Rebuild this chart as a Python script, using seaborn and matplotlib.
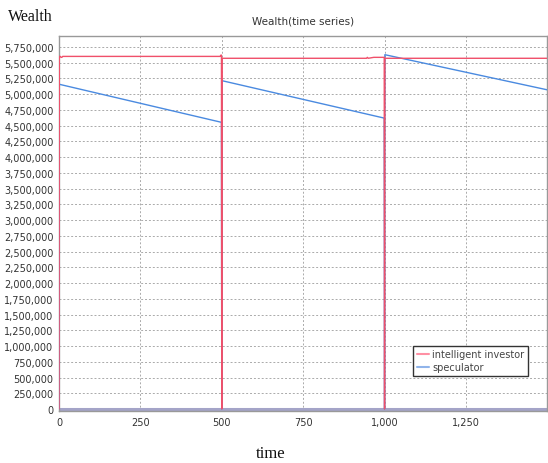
import matplotlib
matplotlib.use("Agg")
import matplotlib.pyplot as plt
import matplotlib.ticker as mticker
import pandas as pd
import seaborn as sns

# Wealth of each agent over time (millions); the series reset to 0 at t = 0, 500, 1000
investor_t = [0, 1, 4, 6, 9, 11, 495, 497, 499, 500, 501, 945, 947, 950, 967, 999, 1000, 1001, 1499]
investor_w = [0, 5.60, 5.60, 5.585, 5.585, 5.60, 5.60, 5.62, 5.62, 0, 5.57, 5.57, 5.585, 5.57, 5.585,
              5.585, 0, 5.57, 5.57]

speculator_t = [0, 1, 499, 500, 501, 999, 1000, 1001, 1499]
speculator_w = [0, 5.157, 4.553, 0, 5.214, 4.62, 0, 5.627, 5.07]

series_names = ["intelligent investor", "speculator"]
x_ticks = [0, 250, 500, 750, 1000, 1250]
y_ticks = [i * 250000 for i in range(24)]

red = "#f0506a"
blue = "#4a8ae0"

df_inv = pd.DataFrame({"time": investor_t, "wealth": [w * 1e6 for w in investor_w]})
df_spec = pd.DataFrame({"time": speculator_t, "wealth": [w * 1e6 for w in speculator_w]})

sns.set_theme(style="white")
plt.rcParams["font.family"] = ["DejaVu Sans"]

fig = plt.figure(figsize=(5.48, 4.64), dpi=100)
ax = fig.add_axes([59 / 548, 1 - 412 / 464, 488 / 548, 375 / 464])

ax.axhline(0, color="#a4a4c8", lw=2.2, zorder=1)
sns.lineplot(data=df_spec, x="time", y="wealth", ax=ax, color=blue, lw=1.0,
             sort=False, estimator=None, label=series_names[1], zorder=3)
sns.lineplot(data=df_inv, x="time", y="wealth", ax=ax, color=red, lw=1.0,
             sort=False, estimator=None, label=series_names[0], zorder=4)

ax.set_xlim(0, 1499)
ax.set_ylim(-32000, 5924000)
ax.set_xticks(x_ticks)
ax.set_yticks(y_ticks)
ax.xaxis.set_major_formatter(mticker.StrMethodFormatter("{x:,.0f}"))
ax.yaxis.set_major_formatter(mticker.StrMethodFormatter("{x:,.0f}"))
ax.tick_params(axis="both", labelsize=7, colors="#444444", length=2, width=0.8,
               direction="out", pad=2)
ax.tick_params(axis="both", labelcolor="#333333")
ax.grid(True, color="#aaaaaa", ls=(0, (2, 2)), lw=0.7, zorder=0)
for s in ax.spines.values():
    s.set_color("#999999")
    s.set_linewidth(1.0)

ax.set_xlabel("")
ax.set_ylabel("")
ax.set_title("Wealth(time series)", fontsize=7.5, color="#333333", pad=9)

handles, labels = ax.get_legend_handles_labels()
order = [labels.index(n) for n in series_names]
leg = ax.legend([handles[i] for i in order], [labels[i] for i in order],
                loc="lower right", bbox_to_anchor=(0.961, 0.094), fontsize=7,
                frameon=True, fancybox=False, edgecolor="#333333", framealpha=1,
                handlelength=1.2, handletextpad=0.4, borderpad=0.35, labelspacing=0.3,
                borderaxespad=0)
leg.get_frame().set_linewidth(1.0)
for h, c in zip(leg.get_lines(), ["#ff90a4", "#90b4ea"]):
    h.set_color(c)
    h.set_linewidth(1.5)
for t in leg.get_texts():
    t.set_color("#444444")

fig.text(8 / 548, 1 - 21 / 464, "Wealth", family=["Liberation Serif"], fontsize=11.5,
         color="#111111", ha="left", va="baseline")
fig.text(271 / 548, 1 - 458 / 464, "time", family=["Liberation Serif"], fontsize=12,
         color="#111111", ha="center", va="baseline")

fig.savefig("out.png", dpi=100, facecolor="white")
